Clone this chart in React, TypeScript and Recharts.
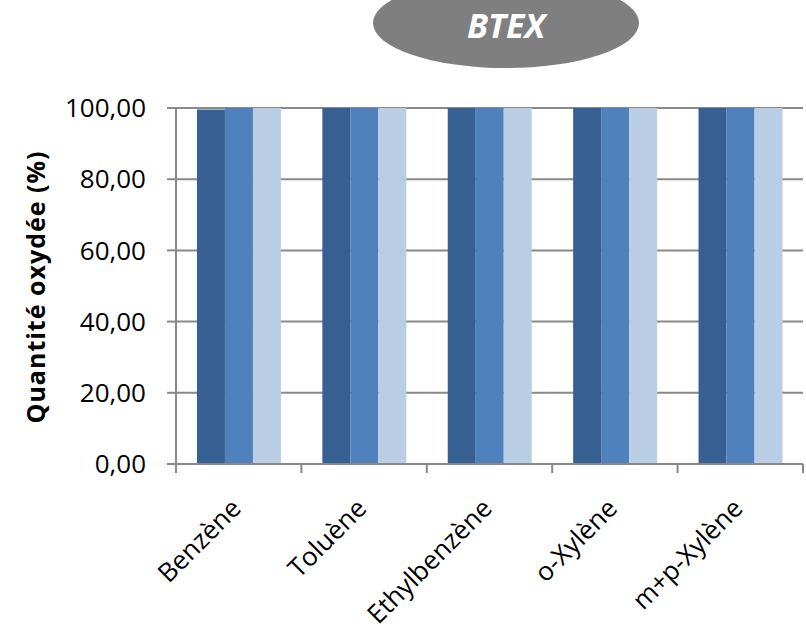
import { Bar, BarChart, CartesianGrid, XAxis, YAxis } from "recharts";

// Oxidised quantity (%) per BTEX compound, three runs.
const compounds = ["Benzène", "Toluène", "Ethylbenzène", "o-Xylène", "m+p-Xylène"];
const run1 = [99.6, 100, 100, 100, 100];
const run2 = [100, 100, 100, 100, 100];
const run3 = [100, 100, 100, 100, 100];
const yTicks = [0, 20, 40, 60, 80, 100];

const WIDTH = 806;
const HEIGHT = 631;
const Y_AXIS_W = 176;
const MARGIN = { top: 108, right: 3, bottom: 137, left: 0 };
const BAND = (WIDTH - MARGIN.left - MARGIN.right - Y_AXIS_W) / compounds.length;

const GRID = "#898989";
const FONT = '"Open Sans", sans-serif';

const rows = compounds.map((name, i) => ({
  name,
  run1: run1[i],
  run2: run2[i],
  run3: run3[i],
}));

const fmt = (v: number) => v.toFixed(2).replace(".", ",");

// Excel-style category axis: ticks sit on the band edges, labels at 45°.
function XTick(props: any) {
  const { x, y, payload, index } = props;
  const lx = x + 4;
  const ly = y + 46;
  return (
    <g>
      <line x1={x - BAND / 2} x2={x - BAND / 2} y1={y} y2={y + 9} stroke={GRID} strokeWidth={2} />
      {index === compounds.length - 1 && (
        <line x1={x + BAND / 2} x2={x + BAND / 2} y1={y} y2={y + 9} stroke={GRID} strokeWidth={2} />
      )}
      <text
        x={lx}
        y={ly}
        textAnchor="end"
        fontSize={26}
        fontFamily={FONT}
        fill="#000"
        transform={`rotate(-45, ${lx}, ${ly})`}
      >
        {payload.value}
      </text>
    </g>
  );
}

export default function App() {
  return (
    <div
      style={{
        position: "absolute",
        left: 0,
        top: 0,
        width: WIDTH,
        height: HEIGHT,
        background: "#fff",
        fontFamily: FONT,
      }}
    >
      <BarChart
        width={WIDTH}
        height={HEIGHT}
        data={rows}
        margin={MARGIN}
        barCategoryGap="16.7%"
        barGap={0}
      >
        <CartesianGrid vertical={false} stroke={GRID} strokeWidth={2} />
        <XAxis
          dataKey="name"
          height={30}
          tickSize={0}
          tickMargin={0}
          interval={0}
          axisLine={{ stroke: GRID, strokeWidth: 2 }}
          tickLine={false}
          tick={<XTick />}
        />
        <YAxis
          width={Y_AXIS_W}
          domain={[0, 100]}
          ticks={yTicks}
          tickFormatter={fmt}
          tickSize={9}
          tickMargin={21}
          axisLine={{ stroke: GRID, strokeWidth: 2 }}
          tickLine={{ stroke: GRID, strokeWidth: 2 }}
          tick={{ fontSize: 26, fill: "#000", fontFamily: FONT }}
        />
        <Bar dataKey="run1" fill="#376092" isAnimationActive={false} />
        <Bar dataKey="run2" fill="#4f81bd" isAnimationActive={false} />
        <Bar dataKey="run3" fill="#b9cde5" isAnimationActive={false} />
      </BarChart>
      <svg
        width={WIDTH}
        height={HEIGHT}
        style={{ position: "absolute", left: 0, top: 0, pointerEvents: "none" }}
      >
        <ellipse cx={506} cy={23} rx={133} ry={45} fill="#7f7f7f" />
        <text
          x={506}
          y={38}
          textAnchor="middle"
          fontSize={34}
          fontWeight="bold"
          fontStyle="italic"
          fontFamily={FONT}
          fill="#fff"
        >
          BTEX
        </text>
        <text
          x={35}
          y={287}
          textAnchor="middle"
          dominantBaseline="central"
          fontSize={25}
          fontWeight="bold"
          letterSpacing={1}
          fontFamily={FONT}
          fill="#000"
          transform="rotate(-90, 35, 287)"
        >
          Quantité oxydée (%)
        </text>
      </svg>
    </div>
  );
}
